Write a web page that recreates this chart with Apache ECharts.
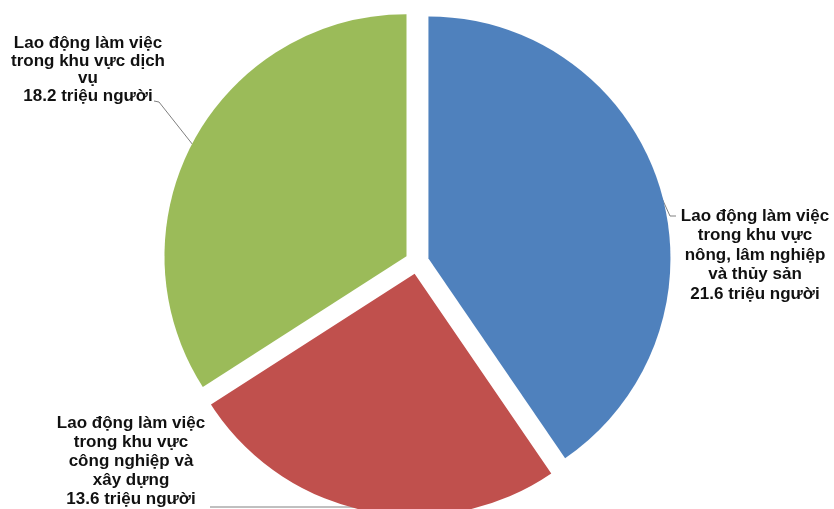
<!DOCTYPE html>
<html>
<head>
<meta charset="utf-8">
<script src="https://cdn.jsdelivr.net/npm/echarts@6/dist/echarts.min.js"></script>
<style>
html,body{margin:0;padding:0;background:#fff;}
#chart{width:834px;height:509px;}
</style>
</head>
<body>
<div id="chart"></div>
<script>
// Data
const categories = [
  'Lao động làm việc\ntrong khu vực\nnông, lâm nghiệp\nvà thủy sản',
  'Lao động làm việc\ntrong khu vực\ncông nghiệp và\nxây dựng',
  'Lao động làm việc\ntrong khu vực dịch\nvụ'
];
const values = [21.6, 13.6, 18.2];
const unit = 'triệu người';
const colors = ['#4F81BD', '#C0504D', '#9BBB59'];

// Label placement (layout only)
const labelPos = [
  {x: 755, y: 255, lh: 19.5, line: [[660, 194], [670, 216], [676, 216]]},
  {x: 131, y: 461, lh: 19,   line: [[210, 507], [378, 507]]},
  {x: 88,  y: 70,  lh: 17.5, line: [[154, 101], [159, 102], [193, 145]]}
];

const chart = echarts.init(document.getElementById('chart'), null, {renderer: 'canvas'});

const sliceData = values.map((v, i) => ({
  name: categories[i],
  value: v,
  selected: true,
  itemStyle: {color: colors[i]}
}));
const labelData = values.map((v, i) => ({
  name: categories[i],
  value: v,
  label: {lineHeight: labelPos[i].lh}
}));

chart.setOption({
  animation: false,
  backgroundColor: '#fff',
  series: [{
    type: 'pie',
    center: [417, 262],
    radius: 242,
    startAngle: 90,
    clockwise: true,
    selectedMode: 'multiple',
    selectedOffset: 12,
    emphasis: {disabled: true},
    label: {show: false},
    labelLine: {show: false},
    data: sliceData
  }, {
    type: 'pie',
    center: [417, 262],
    radius: 242,
    startAngle: 90,
    clockwise: true,
    silent: true,
    selectedMode: false,
    avoidLabelOverlap: false,
    emphasis: {disabled: true},
    itemStyle: {color: 'rgba(0,0,0,0)'},
    data: labelData,
    label: {
      show: true,
      formatter: p => p.name + '\n' + p.value.toFixed(1) + ' ' + unit,
      fontFamily: 'Liberation Sans',
      fontWeight: 'bold',
      fontSize: 17,
      color: '#111',
      align: 'center'
    },
    labelLine: {
      show: true,
      lineStyle: {color: '#808080', width: 1}
    },
    labelLayout: function (params) {
      const p = labelPos[params.dataIndex];
      return {
        x: p.x,
        y: p.y,
        align: 'center',
        verticalAlign: 'middle',
        labelLinePoints: p.line
      };
    }
  }]
});
</script>
</body>
</html>
